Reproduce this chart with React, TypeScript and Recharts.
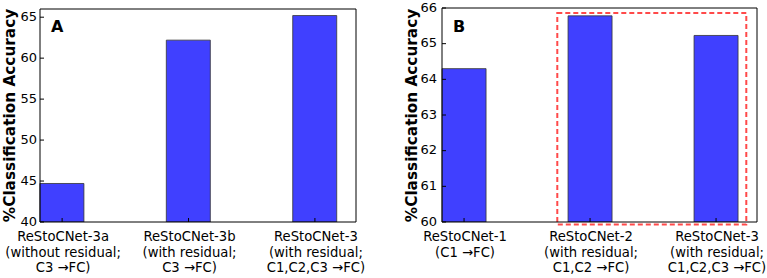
import React from "react";
import { BarChart, Bar, XAxis, YAxis, ReferenceArea } from "recharts";

// bars sit at i .. i+BAR_W on a numeric x axis running 0..2.5 (matplotlib style)
const BAR_W = 0.35;
const X_DOMAIN: [number, number] = [0, 2.5];

const labelsA = [
  ["ReStoCNet-3a", "(without residual;", "C3 \u2192FC)"],
  ["ReStoCNet-3b", "(with residual;", "C3 \u2192FC)"],
  ["ReStoCNet-3", "(with residual;", "C1,C2,C3 \u2192FC)"],
];
const valuesA = [44.7, 62.2, 65.2];
const yTicksA = [40, 45, 50, 55, 60, 65];

const labelsB = [
  ["ReStoCNet-1", "(C1 \u2192FC)"],
  ["ReStoCNet-2", "(with residual;", "C1,C2 \u2192FC)"],
  ["ReStoCNet-3", "(with residual;", "C1,C2,C3 \u2192FC)"],
];
const valuesB = [64.3, 65.78, 65.23];
const yTicksB = [60, 61, 62, 63, 64, 65, 66];

const FONT = "'DejaVu Sans', sans-serif";
const BAR_FILL = "#4040ff";

const CategoryTick = ({ x, y, payload, labels }: any) => {
  const idx = Math.round(payload.value - BAR_W / 2);
  const lines: string[] = labels[idx] || [];
  return (
    <text x={x + 1} y={y} textAnchor="middle" fontFamily={FONT} fontSize={13.2} fill="#000">
      {lines.map((l, i) => (
        <tspan key={i} x={x + 1} dy={i === 0 ? 19 : 15.6}>
          {l}
        </tspan>
      ))}
    </text>
  );
};

const YTitle = ({ viewBox, offsetX }: any) => {
  const cx = viewBox.x + offsetX;
  const cy = 115.5;
  return (
    <text
      x={cx}
      y={cy}
      transform={`rotate(-90 ${cx} ${cy})`}
      textAnchor="middle"
      dominantBaseline="central"
      fontFamily={FONT}
      fontSize={15.3}
      fontWeight="bold"
      fill="#000"
    >
      %Classification Accuracy
    </text>
  );
};

interface PanelProps {
  letter: string;
  labels: string[][];
  values: number[];
  yTicks: number[];
  yDomain: [number, number];
  width: number;
  yAxisWidth: number;
  rightMargin: number;
  topMargin: number;
  titleX: number;
  tickGap: number;
  highlight?: { x1: number; x2: number; y1: number; y2: number };
}

const Panel: React.FC<PanelProps> = ({
  letter,
  labels,
  values,
  yTicks,
  yDomain,
  width,
  yAxisWidth,
  rightMargin,
  topMargin,
  titleX,
  tickGap,
  highlight,
}) => {
  const data = values.map((v, i) => ({ pos: i + BAR_W / 2, acc: v }));
  const xTicks = data.map((d) => d.pos);

  return (
    <BarChart
      width={width}
      height={278}
      data={data}
      margin={{ top: topMargin, right: rightMargin, bottom: 0, left: 0 }}
    >
      <XAxis
        dataKey="pos"
        type="number"
        domain={X_DOMAIN}
        ticks={xTicks}
        height={56}
        stroke="#000"
        tickSize={-4}
        tickMargin={4}
        tick={<CategoryTick labels={labels} />}
        interval={0}
      />
      <XAxis
        xAxisId="t"
        orientation="top"
        type="number"
        domain={X_DOMAIN}
        ticks={xTicks}
        height={5}
        stroke="#000"
        tickSize={-4}
        tick={false}
      />
      <YAxis
        type="number"
        domain={yDomain}
        ticks={yTicks}
        width={yAxisWidth}
        stroke="#000"
        tickSize={-4}
        tickMargin={4 + tickGap}
        tick={{ fontFamily: FONT, fontSize: 13, fill: "#000", dy: -1 }}
        interval={0}
        allowDataOverflow
        label={<YTitle offsetX={titleX} />}
      />
      <YAxis
        yAxisId="r"
        orientation="right"
        type="number"
        domain={yDomain}
        ticks={yTicks}
        width={5}
        stroke="#000"
        tickSize={-4}
        tick={false}
        allowDataOverflow
      />
      <Bar
        dataKey="acc"
        barSize={44}
        fill={BAR_FILL}
        stroke="#333"
        strokeWidth={0.8}
        isAnimationActive={false}
      />
      {highlight && (
        <ReferenceArea
          x1={highlight.x1}
          x2={highlight.x2}
          y1={highlight.y1}
          y2={highlight.y2}
          fill="none"
          stroke="#ff4a4a"
          strokeWidth={2}
          strokeDasharray="5 3"
          ifOverflow="visible"
        />
      )}
      <text x={yAxisWidth + 11} y={32} fontFamily={FONT} fontSize={16} fontWeight="bold" fill="#000">
        {letter}
      </text>
    </BarChart>
  );
};

export default function App() {
  return (
    <div style={{ position: "absolute", left: 0, top: 0, width: 767, height: 278, background: "#fff" }}>
      <div style={{ position: "absolute", left: 0, top: 0 }}>
        <Panel
          letter="A"
          labels={labelsA}
          values={valuesA}
          yTicks={yTicksA}
          yDomain={[40, 66]}
          width={380}
          yAxisWidth={40}
          rightMargin={19}
          topMargin={4}
          titleX={10}
          tickGap={3}
        />
      </div>
      <div style={{ position: "absolute", left: 380, top: 0 }}>
        <Panel
          letter="B"
          labels={labelsB}
          values={valuesB}
          yTicks={yTicksB}
          yDomain={[60, 66]}
          width={387}
          yAxisWidth={62}
          rightMargin={5}
          topMargin={3}
          titleX={32}
          tickGap={5}
          highlight={{ x1: 0.915, x2: 2.415, y1: 59.93, y2: 65.86 }}
        />
      </div>
    </div>
  );
}
